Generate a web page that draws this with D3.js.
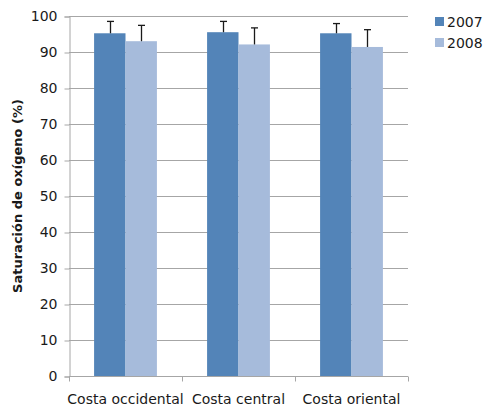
<!DOCTYPE html>
<html>
<head>
<meta charset="utf-8">
<script src="https://cdn.jsdelivr.net/npm/d3@7"></script>
<style>
  html, body { margin: 0; padding: 0; background: #fff; }
  svg text { font-family: "DejaVu Sans", sans-serif; }
</style>
</head>
<body>
<svg id="chart" width="485" height="409"></svg>
<script>
// Oxygen saturation by coast, 2007 vs 2008 (mean + upper error)
const categories = ["Costa occidental", "Costa central", "Costa oriental"];
const seriesNames = ["2007", "2008"];
const values2007 = [95.2, 95.5, 95.2];
const values2008 = [93.0, 92.1, 91.4];
const errTop2007 = [98.5, 98.5, 97.9];
const errTop2008 = [97.4, 96.7, 96.2];
const yTicks = [0, 10, 20, 30, 40, 50, 60, 70, 80, 90, 100];
const colors = ["#5384B8", "#A6BBDB"];

const svg = d3.select("#chart");
const margin = { left: 69, right: 77, top: 16, bottom: 33 };
const W = 485, H = 409;
const x0 = margin.left, x1 = W - margin.right;
const yBottom = H - margin.bottom, yTop = margin.top;

const x = d3.scaleBand().domain(categories).range([x0, x1]).paddingInner(0).paddingOuter(0);
const bw = x.bandwidth();
const xs = d3.scaleBand().domain(seriesNames).range([bw * 0.222, bw * 0.778]).paddingInner(0).paddingOuter(0);
const y = d3.scaleLinear().domain([0, 100]).range([yBottom, yTop]);

// gridlines
svg.append("g")
  .selectAll("line")
  .data(yTicks.filter(t => t > 0))
  .join("line")
  .attr("x1", x0).attr("x2", x1)
  .attr("y1", d => Math.round(y(d)) + 0.5).attr("y2", d => Math.round(y(d)) + 0.5)
  .attr("stroke", "#a6a6a6").attr("stroke-width", 1);

const series = [
  { name: seriesNames[0], vals: values2007, errs: errTop2007, color: colors[0] },
  { name: seriesNames[1], vals: values2008, errs: errTop2008, color: colors[1] }
];

const groups = svg.append("g")
  .selectAll("g")
  .data(series)
  .join("g");

groups.selectAll("rect")
  .data(s => categories.map((c, i) => ({ c, v: s.vals[i], e: s.errs[i], s })))
  .join("rect")
  .attr("x", d => x(d.c) + xs(d.s.name))
  .attr("width", xs.bandwidth())
  .attr("y", d => y(d.v))
  .attr("height", d => y(0) - y(d.v))
  .attr("fill", d => d.s.color);

// error bars (upper only)
const errs = svg.append("g").attr("stroke", "#1a1a1a").attr("stroke-width", 1.3);
series.forEach(s => {
  categories.forEach((c, i) => {
    const cx = Math.round(x(c) + xs(s.name) + xs.bandwidth() / 2) + 0.5;
    errs.append("line").attr("x1", cx).attr("x2", cx)
      .attr("y1", y(s.vals[i])).attr("y2", y(s.errs[i]));
    errs.append("line").attr("x1", cx - 3.5).attr("x2", cx + 3.5)
      .attr("y1", y(s.errs[i])).attr("y2", y(s.errs[i]));
  });
});

// y axis
const yAxis = d3.axisLeft(y).tickValues(yTicks).tickSize(5).tickPadding(7);
const gy = svg.append("g").attr("transform", `translate(${x0 + 0.5},0.5)`).call(yAxis);
gy.select(".domain").attr("stroke", "#a6a6a6");
gy.selectAll(".tick line").attr("stroke", "#a6a6a6");
gy.selectAll("text").attr("font-size", 14).attr("fill", "#1a1a1a").attr("font-family", "DejaVu Sans");

// x axis with ticks at category boundaries
const gx = svg.append("g").attr("transform", `translate(0,${yBottom + 0.5})`);
gx.append("line").attr("x1", x0).attr("x2", x1).attr("stroke", "#a6a6a6");
const bounds = categories.map(c => x(c)).concat([x1]);
gx.selectAll("line.tk").data(bounds).join("line").attr("class", "tk")
  .attr("x1", d => Math.round(d) + 0.5).attr("x2", d => Math.round(d) + 0.5)
  .attr("y1", 0).attr("y2", 5).attr("stroke", "#a6a6a6");
gx.selectAll("text").data(categories).join("text")
  .attr("x", d => x(d) + x.bandwidth() / 2)
  .attr("y", 27)
  .attr("text-anchor", "middle")
  .attr("font-size", 14)
  .attr("fill", "#1a1a1a")
  .text(d => d);

// y axis title
svg.append("text")
  .attr("transform", `translate(22,${(yTop + yBottom) / 2}) rotate(-90)`)
  .attr("text-anchor", "middle")
  .attr("font-size", 13)
  .attr("font-weight", "bold")
  .attr("fill", "#1a1a1a")
  .text("Saturación de oxígeno (%)");

// legend
const lg = svg.append("g").attr("transform", "translate(435,17)");
series.forEach((s, i) => {
  lg.append("rect").attr("x", 0).attr("y", i * 21).attr("width", 9).attr("height", 9).attr("fill", s.color);
  lg.append("text").attr("x", 12).attr("y", i * 21 + 9.5).attr("font-size", 14).attr("fill", "#1a1a1a").text(s.name);
});
</script>
</body>
</html>
